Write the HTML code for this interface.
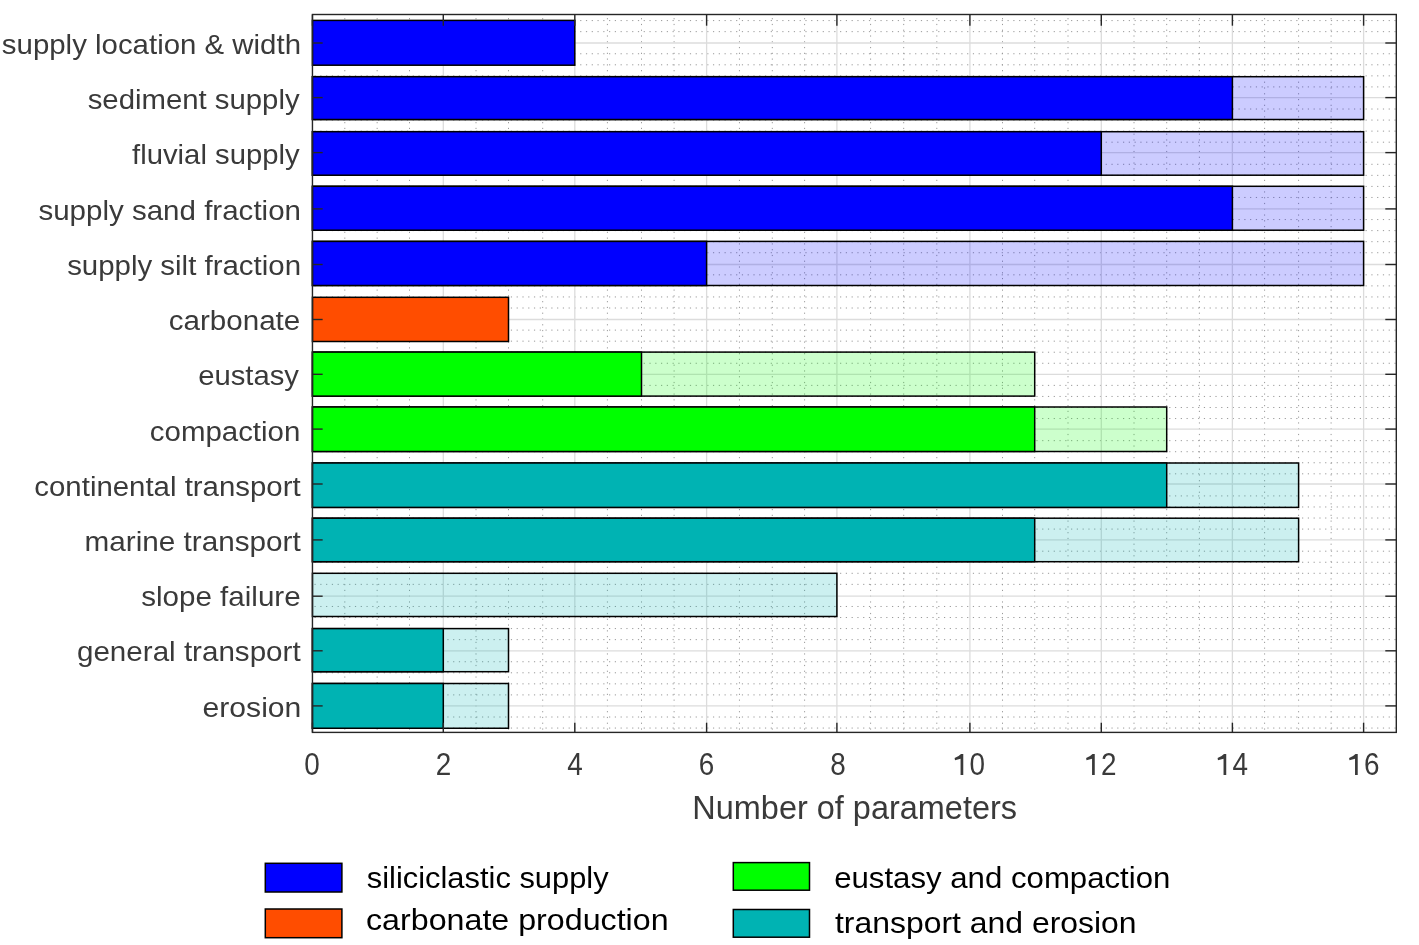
<!DOCTYPE html>
<html><head><meta charset="utf-8"><style>
html,body{margin:0;padding:0;background:#fff;}
body{width:1419px;height:945px;overflow:hidden;font-family:"Liberation Sans",sans-serif;}
svg{display:block;will-change:transform;}
</style></head><body>
<svg width="1419" height="945" viewBox="0 0 1419 945">
<rect width="1419" height="945" fill="#fff"/>
<g stroke="#9a9a9a" stroke-width="1" stroke-dasharray="1.2 4.575" fill="none">
<line x1="344.80" y1="732.4" x2="344.80" y2="14.5" stroke-dashoffset="-2.77"/>
<line x1="377.15" y1="732.4" x2="377.15" y2="14.5" stroke-dashoffset="-2.77"/>
<line x1="409.50" y1="732.4" x2="409.50" y2="14.5" stroke-dashoffset="-2.77"/>
<line x1="476.00" y1="732.4" x2="476.00" y2="14.5" stroke-dashoffset="-2.77"/>
<line x1="508.50" y1="732.4" x2="508.50" y2="14.5" stroke-dashoffset="-2.77"/>
<line x1="542.70" y1="732.4" x2="542.70" y2="14.5" stroke-dashoffset="-2.77"/>
<line x1="607.40" y1="732.4" x2="607.40" y2="14.5" stroke-dashoffset="-2.77"/>
<line x1="641.50" y1="732.4" x2="641.50" y2="14.5" stroke-dashoffset="-2.77"/>
<line x1="674.10" y1="732.4" x2="674.10" y2="14.5" stroke-dashoffset="-2.77"/>
<line x1="739.45" y1="732.4" x2="739.45" y2="14.5" stroke-dashoffset="-2.77"/>
<line x1="772.30" y1="732.4" x2="772.30" y2="14.5" stroke-dashoffset="-2.77"/>
<line x1="804.60" y1="732.4" x2="804.60" y2="14.5" stroke-dashoffset="-2.77"/>
<line x1="870.60" y1="732.4" x2="870.60" y2="14.5" stroke-dashoffset="-2.77"/>
<line x1="903.70" y1="732.4" x2="903.70" y2="14.5" stroke-dashoffset="-2.77"/>
<line x1="936.80" y1="732.4" x2="936.80" y2="14.5" stroke-dashoffset="-2.77"/>
<line x1="1002.50" y1="732.4" x2="1002.50" y2="14.5" stroke-dashoffset="-2.77"/>
<line x1="1034.70" y1="732.4" x2="1034.70" y2="14.5" stroke-dashoffset="-2.77"/>
<line x1="1068.00" y1="732.4" x2="1068.00" y2="14.5" stroke-dashoffset="-2.77"/>
<line x1="1134.00" y1="732.4" x2="1134.00" y2="14.5" stroke-dashoffset="-2.77"/>
<line x1="1166.70" y1="732.4" x2="1166.70" y2="14.5" stroke-dashoffset="-2.77"/>
<line x1="1199.40" y1="732.4" x2="1199.40" y2="14.5" stroke-dashoffset="-2.77"/>
<line x1="1264.60" y1="732.4" x2="1264.60" y2="14.5" stroke-dashoffset="-2.77"/>
<line x1="1298.60" y1="732.4" x2="1298.60" y2="14.5" stroke-dashoffset="-2.77"/>
<line x1="1331.10" y1="732.4" x2="1331.10" y2="14.5" stroke-dashoffset="-2.77"/>
<line x1="312.45" y1="20.59" x2="1396.3" y2="20.59" stroke-dashoffset="-2.06"/>
<line x1="312.45" y1="31.65" x2="1396.3" y2="31.65" stroke-dashoffset="-2.06"/>
<line x1="312.45" y1="53.76" x2="1396.3" y2="53.76" stroke-dashoffset="-2.06"/>
<line x1="312.45" y1="64.81" x2="1396.3" y2="64.81" stroke-dashoffset="-2.06"/>
<line x1="312.45" y1="75.86" x2="1396.3" y2="75.86" stroke-dashoffset="-2.06"/>
<line x1="312.45" y1="86.92" x2="1396.3" y2="86.92" stroke-dashoffset="-2.06"/>
<line x1="312.45" y1="109.03" x2="1396.3" y2="109.03" stroke-dashoffset="-2.06"/>
<line x1="312.45" y1="120.08" x2="1396.3" y2="120.08" stroke-dashoffset="-2.06"/>
<line x1="312.45" y1="131.14" x2="1396.3" y2="131.14" stroke-dashoffset="-2.06"/>
<line x1="312.45" y1="142.19" x2="1396.3" y2="142.19" stroke-dashoffset="-2.06"/>
<line x1="312.45" y1="164.30" x2="1396.3" y2="164.30" stroke-dashoffset="-2.06"/>
<line x1="312.45" y1="175.35" x2="1396.3" y2="175.35" stroke-dashoffset="-2.06"/>
<line x1="312.45" y1="186.41" x2="1396.3" y2="186.41" stroke-dashoffset="-2.06"/>
<line x1="312.45" y1="197.46" x2="1396.3" y2="197.46" stroke-dashoffset="-2.06"/>
<line x1="312.45" y1="219.57" x2="1396.3" y2="219.57" stroke-dashoffset="-2.06"/>
<line x1="312.45" y1="230.62" x2="1396.3" y2="230.62" stroke-dashoffset="-2.06"/>
<line x1="312.45" y1="241.68" x2="1396.3" y2="241.68" stroke-dashoffset="-2.06"/>
<line x1="312.45" y1="252.73" x2="1396.3" y2="252.73" stroke-dashoffset="-2.06"/>
<line x1="312.45" y1="274.84" x2="1396.3" y2="274.84" stroke-dashoffset="-2.06"/>
<line x1="312.45" y1="285.89" x2="1396.3" y2="285.89" stroke-dashoffset="-2.06"/>
<line x1="312.45" y1="296.95" x2="1396.3" y2="296.95" stroke-dashoffset="-2.06"/>
<line x1="312.45" y1="308.00" x2="1396.3" y2="308.00" stroke-dashoffset="-2.06"/>
<line x1="312.45" y1="330.11" x2="1396.3" y2="330.11" stroke-dashoffset="-2.06"/>
<line x1="312.45" y1="341.17" x2="1396.3" y2="341.17" stroke-dashoffset="-2.06"/>
<line x1="312.45" y1="352.22" x2="1396.3" y2="352.22" stroke-dashoffset="-2.06"/>
<line x1="312.45" y1="363.27" x2="1396.3" y2="363.27" stroke-dashoffset="-2.06"/>
<line x1="312.45" y1="385.38" x2="1396.3" y2="385.38" stroke-dashoffset="-2.06"/>
<line x1="312.45" y1="396.44" x2="1396.3" y2="396.44" stroke-dashoffset="-2.06"/>
<line x1="312.45" y1="407.49" x2="1396.3" y2="407.49" stroke-dashoffset="-2.06"/>
<line x1="312.45" y1="418.54" x2="1396.3" y2="418.54" stroke-dashoffset="-2.06"/>
<line x1="312.45" y1="440.65" x2="1396.3" y2="440.65" stroke-dashoffset="-2.06"/>
<line x1="312.45" y1="451.71" x2="1396.3" y2="451.71" stroke-dashoffset="-2.06"/>
<line x1="312.45" y1="462.76" x2="1396.3" y2="462.76" stroke-dashoffset="-2.06"/>
<line x1="312.45" y1="473.82" x2="1396.3" y2="473.82" stroke-dashoffset="-2.06"/>
<line x1="312.45" y1="495.92" x2="1396.3" y2="495.92" stroke-dashoffset="-2.06"/>
<line x1="312.45" y1="506.98" x2="1396.3" y2="506.98" stroke-dashoffset="-2.06"/>
<line x1="312.45" y1="518.03" x2="1396.3" y2="518.03" stroke-dashoffset="-2.06"/>
<line x1="312.45" y1="529.09" x2="1396.3" y2="529.09" stroke-dashoffset="-2.06"/>
<line x1="312.45" y1="551.20" x2="1396.3" y2="551.20" stroke-dashoffset="-2.06"/>
<line x1="312.45" y1="562.25" x2="1396.3" y2="562.25" stroke-dashoffset="-2.06"/>
<line x1="312.45" y1="573.30" x2="1396.3" y2="573.30" stroke-dashoffset="-2.06"/>
<line x1="312.45" y1="584.36" x2="1396.3" y2="584.36" stroke-dashoffset="-2.06"/>
<line x1="312.45" y1="606.47" x2="1396.3" y2="606.47" stroke-dashoffset="-2.06"/>
<line x1="312.45" y1="617.52" x2="1396.3" y2="617.52" stroke-dashoffset="-2.06"/>
<line x1="312.45" y1="628.57" x2="1396.3" y2="628.57" stroke-dashoffset="-2.06"/>
<line x1="312.45" y1="639.63" x2="1396.3" y2="639.63" stroke-dashoffset="-2.06"/>
<line x1="312.45" y1="661.74" x2="1396.3" y2="661.74" stroke-dashoffset="-2.06"/>
<line x1="312.45" y1="672.79" x2="1396.3" y2="672.79" stroke-dashoffset="-2.06"/>
<line x1="312.45" y1="683.85" x2="1396.3" y2="683.85" stroke-dashoffset="-2.06"/>
<line x1="312.45" y1="694.90" x2="1396.3" y2="694.90" stroke-dashoffset="-2.06"/>
<line x1="312.45" y1="717.01" x2="1396.3" y2="717.01" stroke-dashoffset="-2.06"/>
<line x1="312.45" y1="728.06" x2="1396.3" y2="728.06" stroke-dashoffset="-2.06"/>
</g>
<g stroke="#dcdcdc" stroke-width="1.3" fill="none">
<line x1="443.30" y1="14.5" x2="443.30" y2="732.4"/>
<line x1="574.80" y1="14.5" x2="574.80" y2="732.4"/>
<line x1="706.60" y1="14.5" x2="706.60" y2="732.4"/>
<line x1="836.90" y1="14.5" x2="836.90" y2="732.4"/>
<line x1="969.90" y1="14.5" x2="969.90" y2="732.4"/>
<line x1="1101.30" y1="14.5" x2="1101.30" y2="732.4"/>
<line x1="1232.40" y1="14.5" x2="1232.40" y2="732.4"/>
<line x1="1363.60" y1="14.5" x2="1363.60" y2="732.4"/>
<line x1="312.45" y1="43.00" x2="1396.3" y2="43.00"/>
<line x1="312.45" y1="97.60" x2="1396.3" y2="97.60"/>
<line x1="312.45" y1="152.60" x2="1396.3" y2="152.60"/>
<line x1="312.45" y1="208.90" x2="1396.3" y2="208.90"/>
<line x1="312.45" y1="264.50" x2="1396.3" y2="264.50"/>
<line x1="312.45" y1="319.50" x2="1396.3" y2="319.50"/>
<line x1="312.45" y1="374.30" x2="1396.3" y2="374.30"/>
<line x1="312.45" y1="429.10" x2="1396.3" y2="429.10"/>
<line x1="312.45" y1="484.00" x2="1396.3" y2="484.00"/>
<line x1="312.45" y1="539.90" x2="1396.3" y2="539.90"/>
<line x1="312.45" y1="596.20" x2="1396.3" y2="596.20"/>
<line x1="312.45" y1="650.80" x2="1396.3" y2="650.80"/>
<line x1="312.45" y1="705.90" x2="1396.3" y2="705.90"/>
</g>
<g stroke="#000" stroke-width="1.5">
<rect x="312.45" y="20.40" width="262.35" height="44.80" fill="#0000ff"/>
<rect x="312.45" y="76.70" width="1051.15" height="42.80" fill="#0000ff" fill-opacity="0.2"/>
<rect x="312.45" y="76.70" width="919.95" height="42.80" fill="#0000ff"/>
<rect x="312.45" y="131.70" width="1051.15" height="43.50" fill="#0000ff" fill-opacity="0.2"/>
<rect x="312.45" y="131.70" width="788.85" height="43.50" fill="#0000ff"/>
<rect x="312.45" y="186.30" width="1051.15" height="43.90" fill="#0000ff" fill-opacity="0.2"/>
<rect x="312.45" y="186.30" width="919.95" height="43.90" fill="#0000ff"/>
<rect x="312.45" y="241.40" width="1051.15" height="44.10" fill="#0000ff" fill-opacity="0.2"/>
<rect x="312.45" y="241.40" width="394.15" height="44.10" fill="#0000ff"/>
<rect x="312.45" y="297.30" width="196.05" height="44.20" fill="#ff4d00"/>
<rect x="312.45" y="352.10" width="722.25" height="44.00" fill="#00ff00" fill-opacity="0.2"/>
<rect x="312.45" y="352.10" width="329.05" height="44.00" fill="#00ff00"/>
<rect x="312.45" y="407.00" width="854.25" height="44.50" fill="#00ff00" fill-opacity="0.2"/>
<rect x="312.45" y="407.00" width="722.25" height="44.50" fill="#00ff00"/>
<rect x="312.45" y="463.00" width="986.15" height="44.40" fill="#00b3b3" fill-opacity="0.2"/>
<rect x="312.45" y="463.00" width="854.25" height="44.40" fill="#00b3b3"/>
<rect x="312.45" y="518.20" width="986.15" height="43.50" fill="#00b3b3" fill-opacity="0.2"/>
<rect x="312.45" y="518.20" width="722.25" height="43.50" fill="#00b3b3"/>
<rect x="312.45" y="573.30" width="524.45" height="43.20" fill="#00b3b3" fill-opacity="0.2"/>
<rect x="312.45" y="628.60" width="196.05" height="43.10" fill="#00b3b3" fill-opacity="0.2"/>
<rect x="312.45" y="628.60" width="130.85" height="43.10" fill="#00b3b3"/>
<rect x="312.45" y="683.50" width="196.05" height="44.75" fill="#00b3b3" fill-opacity="0.2"/>
<rect x="312.45" y="683.50" width="130.85" height="44.75" fill="#00b3b3"/>
</g>
<g stroke="#262626" stroke-width="1.4" fill="none">
<rect x="312.45" y="14.5" width="1083.85" height="717.9"/>
<line x1="312.45" y1="732.4" x2="312.45" y2="722.6999999999999"/>
<line x1="312.45" y1="14.5" x2="312.45" y2="25.7"/>
<line x1="443.30" y1="732.4" x2="443.30" y2="722.6999999999999"/>
<line x1="443.30" y1="14.5" x2="443.30" y2="25.7"/>
<line x1="574.80" y1="732.4" x2="574.80" y2="722.6999999999999"/>
<line x1="574.80" y1="14.5" x2="574.80" y2="25.7"/>
<line x1="706.60" y1="732.4" x2="706.60" y2="722.6999999999999"/>
<line x1="706.60" y1="14.5" x2="706.60" y2="25.7"/>
<line x1="836.90" y1="732.4" x2="836.90" y2="722.6999999999999"/>
<line x1="836.90" y1="14.5" x2="836.90" y2="25.7"/>
<line x1="969.90" y1="732.4" x2="969.90" y2="722.6999999999999"/>
<line x1="969.90" y1="14.5" x2="969.90" y2="25.7"/>
<line x1="1101.30" y1="732.4" x2="1101.30" y2="722.6999999999999"/>
<line x1="1101.30" y1="14.5" x2="1101.30" y2="25.7"/>
<line x1="1232.40" y1="732.4" x2="1232.40" y2="722.6999999999999"/>
<line x1="1232.40" y1="14.5" x2="1232.40" y2="25.7"/>
<line x1="1363.60" y1="732.4" x2="1363.60" y2="722.6999999999999"/>
<line x1="1363.60" y1="14.5" x2="1363.60" y2="25.7"/>
<line x1="312.45" y1="43.00" x2="322.65" y2="43.00"/>
<line x1="1396.3" y1="43.00" x2="1385.3" y2="43.00"/>
<line x1="312.45" y1="97.60" x2="322.65" y2="97.60"/>
<line x1="1396.3" y1="97.60" x2="1385.3" y2="97.60"/>
<line x1="312.45" y1="152.60" x2="322.65" y2="152.60"/>
<line x1="1396.3" y1="152.60" x2="1385.3" y2="152.60"/>
<line x1="312.45" y1="208.90" x2="322.65" y2="208.90"/>
<line x1="1396.3" y1="208.90" x2="1385.3" y2="208.90"/>
<line x1="312.45" y1="264.50" x2="322.65" y2="264.50"/>
<line x1="1396.3" y1="264.50" x2="1385.3" y2="264.50"/>
<line x1="312.45" y1="319.50" x2="322.65" y2="319.50"/>
<line x1="1396.3" y1="319.50" x2="1385.3" y2="319.50"/>
<line x1="312.45" y1="374.30" x2="322.65" y2="374.30"/>
<line x1="1396.3" y1="374.30" x2="1385.3" y2="374.30"/>
<line x1="312.45" y1="429.10" x2="322.65" y2="429.10"/>
<line x1="1396.3" y1="429.10" x2="1385.3" y2="429.10"/>
<line x1="312.45" y1="484.00" x2="322.65" y2="484.00"/>
<line x1="1396.3" y1="484.00" x2="1385.3" y2="484.00"/>
<line x1="312.45" y1="539.90" x2="322.65" y2="539.90"/>
<line x1="1396.3" y1="539.90" x2="1385.3" y2="539.90"/>
<line x1="312.45" y1="596.20" x2="322.65" y2="596.20"/>
<line x1="1396.3" y1="596.20" x2="1385.3" y2="596.20"/>
<line x1="312.45" y1="650.80" x2="322.65" y2="650.80"/>
<line x1="1396.3" y1="650.80" x2="1385.3" y2="650.80"/>
<line x1="312.45" y1="705.90" x2="322.65" y2="705.90"/>
<line x1="1396.3" y1="705.90" x2="1385.3" y2="705.90"/>
</g>
<g font-family="Liberation Sans" fill="#3a3a3a" font-size="27.6" text-anchor="end">
<text transform="translate(301.00,53.90) scale(1.0657,1)">supply location &amp; width</text>
<text transform="translate(299.60,108.50) scale(1.0635,1)">sediment supply</text>
<text transform="translate(299.60,164.20) scale(1.0603,1)">fluvial supply</text>
<text transform="translate(301.00,219.80) scale(1.0699,1)">supply sand fraction</text>
<text transform="translate(301.00,275.10) scale(1.0670,1)">supply silt fraction</text>
<text transform="translate(300.30,329.90) scale(1.0729,1)">carbonate</text>
<text transform="translate(298.90,385.00) scale(1.0595,1)">eustasy</text>
<text transform="translate(300.30,441.30) scale(1.0670,1)">compaction</text>
<text transform="translate(300.65,496.10) scale(1.0656,1)">continental transport</text>
<text transform="translate(300.65,550.80) scale(1.0759,1)">marine transport</text>
<text transform="translate(300.65,606.40) scale(1.0718,1)">slope failure</text>
<text transform="translate(300.65,661.20) scale(1.0721,1)">general transport</text>
<text transform="translate(301.35,716.80) scale(1.0913,1)">erosion</text>
</g>
<g font-family="Liberation Sans" fill="#3a3a3a" font-size="30.0">
<text transform="translate(304.27,775.1) scale(0.93,1.03)">0</text>
<text transform="translate(435.76,775.1) scale(0.93,1.03)">2</text>
<text transform="translate(567.24,775.1) scale(0.93,1.03)">4</text>
<text transform="translate(698.73,775.1) scale(0.93,1.03)">6</text>
<text transform="translate(830.22,775.1) scale(0.93,1.03)">8</text>
<path transform="translate(961.92,775.1)" d="M 1.35 0 L -1.35 0 L -1.35 -16.4 L -6.9 -14.9 L -7.3 -17.1 Q -3.2 -18.4 -0.9 -21.0 L 1.35 -21.0 Z"/>
<text transform="translate(969.46,775.1) scale(0.93,1.03)">0</text>
<path transform="translate(1093.41,775.1)" d="M 1.35 0 L -1.35 0 L -1.35 -16.4 L -6.9 -14.9 L -7.3 -17.1 Q -3.2 -18.4 -0.9 -21.0 L 1.35 -21.0 Z"/>
<text transform="translate(1100.95,775.1) scale(0.93,1.03)">2</text>
<path transform="translate(1224.89,775.1)" d="M 1.35 0 L -1.35 0 L -1.35 -16.4 L -6.9 -14.9 L -7.3 -17.1 Q -3.2 -18.4 -0.9 -21.0 L 1.35 -21.0 Z"/>
<text transform="translate(1232.43,775.1) scale(0.93,1.03)">4</text>
<path transform="translate(1356.38,775.1)" d="M 1.35 0 L -1.35 0 L -1.35 -16.4 L -6.9 -14.9 L -7.3 -17.1 Q -3.2 -18.4 -0.9 -21.0 L 1.35 -21.0 Z"/>
<text transform="translate(1363.92,775.1) scale(0.93,1.03)">6</text>
</g>
<text font-family="Liberation Sans" fill="#3a3a3a" font-size="33.4" text-anchor="middle" transform="translate(854.67,818.6) scale(0.972,1)">Number of parameters</text>
<rect x="265.3" y="863.3" width="76.6" height="28.7" fill="#0000ff" stroke="#000" stroke-width="1.5"/>
<text font-family="Liberation Sans" fill="#000" font-size="29" x="366.8" y="887.8" textLength="241.8" lengthAdjust="spacingAndGlyphs">siliciclastic supply</text>
<rect x="265.3" y="909.0" width="76.6" height="28.7" fill="#ff4d00" stroke="#000" stroke-width="1.5"/>
<text font-family="Liberation Sans" fill="#000" font-size="29" x="366.0" y="929.5" textLength="302.6" lengthAdjust="spacingAndGlyphs">carbonate production</text>
<rect x="733.3" y="862.6" width="76.2" height="27.6" fill="#00ff00" stroke="#000" stroke-width="1.5"/>
<text font-family="Liberation Sans" fill="#000" font-size="29" x="834.2" y="887.8" textLength="336.2" lengthAdjust="spacingAndGlyphs">eustasy and compaction</text>
<rect x="733.3" y="909.5" width="76.2" height="27.7" fill="#00b3b3" stroke="#000" stroke-width="1.5"/>
<text font-family="Liberation Sans" fill="#000" font-size="29" x="835" y="932.5" textLength="301.6" lengthAdjust="spacingAndGlyphs">transport and erosion</text>
</svg>
</body></html>
